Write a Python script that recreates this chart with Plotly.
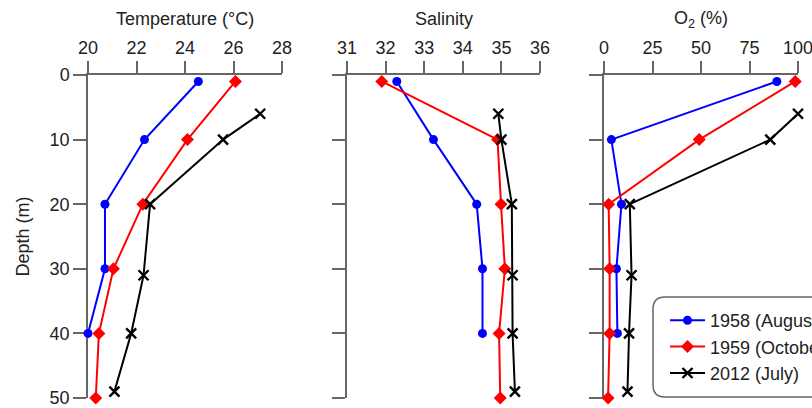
import plotly.graph_objects as go

# ---- data ----
series_names = ["1958 (August)", "1959 (October)", "2012 (July)"]

depth_1958 = [1, 10, 20, 30, 40]
depth_1959 = [1, 10, 20, 30, 40, 50]
depth_2012 = [6, 10, 20, 31, 40, 49]

temp_1958 = [24.55, 22.33, 20.7, 20.7, 20.0]
temp_1959 = [26.08, 24.1, 22.26, 21.05, 20.45, 20.32]
temp_2012 = [27.1, 25.57, 22.56, 22.29, 21.78, 21.09]

sal_1958 = [32.29, 33.24, 34.36, 34.51, 34.51]
sal_1959 = [31.9, 34.9, 34.99, 35.09, 34.94, 34.97]
sal_2012 = [34.92, 35.0, 35.27, 35.29, 35.29, 35.35]

o2_1958 = [89.1, 3.8, 9.0, 6.4, 6.9]
o2_1959 = [98.6, 49.1, 2.4, 2.9, 2.9, 2.1]
o2_2012 = [100.0, 85.7, 13.3, 14.2, 12.9, 12.1]

panel_titles = ["Temperature (°C)", "Salinity", "O<sub>2</sub> (%)"]
x_ranges = [[20, 28], [31, 36], [0, 100]]
x_ticks = [[20, 22, 24, 26, 28], [31, 32, 33, 34, 35, 36], [0, 25, 50, 75, 100]]
depth_ticks = [0, 10, 20, 30, 40, 50]

# ---- figure ----
W, H = 812, 408
ML, MR, MT, MB = 88, 14, 75, 10
PW, PH = W - ML - MR, H - MT - MB

def px_x(p):
    return (p - ML) / PW

def px_y(p):
    return 1 - (p - MT) / PH

domains = [[px_x(88), px_x(282)], [px_x(347), px_x(540)], [px_x(604), px_x(798)]]

FONT = "Liberation Sans, Arial, sans-serif"
FS = 18
AXC = "#666666"
TXT = "#222222"

styles = [
    dict(color="#0000FF", symbol="circle", size=9, lw=0),
    dict(color="#FF0000", symbol="diamond", size=10, lw=0),
    dict(color="#000000", symbol="x-thin", size=10, lw=2.4),
]
depths = [depth_1958, depth_1959, depth_2012]
values = [
    [temp_1958, temp_1959, temp_2012],
    [sal_1958, sal_1959, sal_2012],
    [o2_1958, o2_1959, o2_2012],
]

fig = go.Figure()
for p in range(3):
    for s in range(3):
        st = styles[s]
        fig.add_trace(go.Scatter(
            x=values[p][s], y=depths[s],
            mode="lines+markers",
            name=series_names[s],
            legendgroup=series_names[s],
            showlegend=(p == 0),
            line=dict(color=st["color"], width=2),
            marker=dict(symbol=st["symbol"], size=st["size"], color=st["color"],
                        line=dict(color=st["color"], width=st["lw"])),
            xaxis="x" if p == 0 else f"x{p+1}",
            yaxis="y" if p == 0 else f"y{p+1}",
            cliponaxis=False,
        ))

layout = dict(
    width=W, height=H,
    margin=dict(l=ML, r=MR, t=MT, b=MB, autoexpand=False),
    paper_bgcolor="white", plot_bgcolor="white",
    font=dict(family=FONT, size=FS, color=TXT),
    showlegend=True,
    legend=dict(
        x=px_x(665), y=px_y(302), xanchor="left", yanchor="top",
        bgcolor="rgba(0,0,0,0)", borderwidth=0, itemwidth=35,
        font=dict(family=FONT, size=FS, color=TXT),
        tracegroupgap=0,
    ),
)

for p in range(3):
    xa = "xaxis" if p == 0 else f"xaxis{p+1}"
    ya = "yaxis" if p == 0 else f"yaxis{p+1}"
    anchor_y = "y" if p == 0 else f"y{p+1}"
    anchor_x = "x" if p == 0 else f"x{p+1}"
    layout[xa] = dict(
        domain=domains[p], range=x_ranges[p], side="top", anchor=anchor_y,
        tickvals=x_ticks[p], ticks="outside", ticklen=12, tickwidth=1.5,
        tickcolor=AXC, showline=True, linecolor=AXC, linewidth=1.5,
        showgrid=False, zeroline=False, layer="below traces",
        ticklabeloverflow="allow",
        tickfont=dict(family=FONT, size=FS, color=TXT),
    )
    layout[ya] = dict(
        domain=[0, 1], range=[50, 0], anchor=anchor_x,
        tickvals=depth_ticks, ticks="outside", ticklen=13, tickwidth=1.5,
        tickcolor=AXC, showline=True, linecolor=AXC, linewidth=1.5,
        showgrid=False, zeroline=False, showticklabels=(p == 0),
        layer="below traces", ticklabeloverflow="allow",
        tickfont=dict(family=FONT, size=FS, color=TXT),
    )

fig.update_layout(**layout)

# panel titles
for p in range(3):
    fig.add_annotation(
        text=panel_titles[p], xref="paper", yref="paper",
        x=(domains[p][0] + domains[p][1]) / 2, y=px_y(19),
        xanchor="center", yanchor="middle", showarrow=False,
        font=dict(family=FONT, size=FS, color=TXT),
    )

# y title
fig.add_annotation(
    text="Depth (m)", xref="paper", yref="paper",
    x=px_x(22), y=0.5, xanchor="center", yanchor="middle",
    textangle=-90, showarrow=False,
    font=dict(family=FONT, size=FS, color=TXT),
)

# rounded legend box
x0, x1 = px_x(653), px_x(840)
y0, y1 = px_y(397), px_y(297)
rx, ry = 12 / PW, 12 / PH
path = (f"M {x0+rx},{y1} L {x1-rx},{y1} Q {x1},{y1} {x1},{y1-ry} "
        f"L {x1},{y0+ry} Q {x1},{y0} {x1-rx},{y0} "
        f"L {x0+rx},{y0} Q {x0},{y0} {x0},{y0+ry} "
        f"L {x0},{y1-ry} Q {x0},{y1} {x0+rx},{y1} Z")
fig.add_shape(type="path", path=path, xref="paper", yref="paper",
              line=dict(color=AXC, width=1.5), fillcolor="rgba(0,0,0,0)")

fig.write_html("out.html",
               config={"displayModeBar": False},
               post_script="document.body.style.margin='0px';document.body.style.overflow='hidden';")
